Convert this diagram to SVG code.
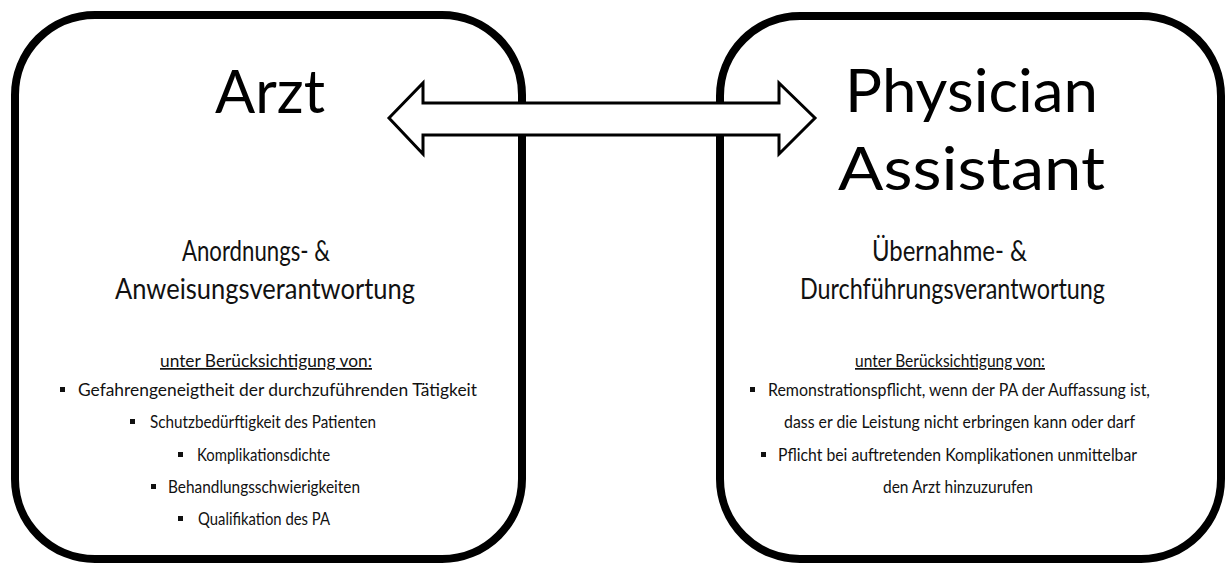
<svg xmlns="http://www.w3.org/2000/svg" width="1226" height="567" viewBox="0 0 1226 567">
<style>
.box{fill:#fff;stroke:#000;stroke-width:8}
.arrow{fill:#fff;stroke:#000;stroke-width:3;stroke-linejoin:miter}
text{font-family:Lato,"Open Sans","Liberation Sans",sans-serif;fill:#111}
.h1{font-size:60px;fill:#000}
.h2{font-size:28px}
.sub{font-size:17px;text-decoration:underline}
.li{font-size:17px}
.bul{fill:#111}
</style>
<rect width="1226" height="567" fill="#fff"/>
<g id="node-arzt">
<rect class="box" x="15" y="15" width="507" height="544" rx="80"/>
<text class="h1" x="215" y="113" textLength="110" lengthAdjust="spacingAndGlyphs">Arzt</text>
<text class="h2" x="182" y="261" textLength="148" lengthAdjust="spacingAndGlyphs">Anordnungs- &amp;</text>
<text class="h2" x="115" y="299" textLength="300" lengthAdjust="spacingAndGlyphs">Anweisungsverantwortung</text>
<text class="sub" x="160" y="367" textLength="212" lengthAdjust="spacingAndGlyphs">unter  Berücksichtigung von:</text>
<rect class="bul" x="60" y="387" width="5" height="5"/>
<text class="li" x="78" y="396" textLength="399" lengthAdjust="spacingAndGlyphs">Gefahrengeneigtheit der durchzuführenden  Tätigkeit</text>
<rect class="bul" x="130" y="419" width="5" height="5"/>
<text class="li" x="150" y="428" textLength="226" lengthAdjust="spacingAndGlyphs">Schutzbedürftigkeit  des Patienten</text>
<rect class="bul" x="178" y="452" width="5" height="5"/>
<text class="li" x="197" y="461" textLength="133" lengthAdjust="spacingAndGlyphs">Komplikationsdichte</text>
<rect class="bul" x="151" y="484" width="5" height="5"/>
<text class="li" x="168" y="493" textLength="192" lengthAdjust="spacingAndGlyphs">Behandlungsschwierigkeiten</text>
<rect class="bul" x="178" y="516" width="5" height="5"/>
<text class="li" x="198" y="525" textLength="132" lengthAdjust="spacingAndGlyphs">Qualifikation des PA</text>
</g>
<g id="node-pa">
<rect class="box" x="720" y="16" width="501" height="543" rx="80"/>
<text class="h1" x="845" y="112" textLength="253" lengthAdjust="spacingAndGlyphs">Physician</text>
<text class="h1" x="838" y="190" textLength="267" lengthAdjust="spacingAndGlyphs">Assistant</text>
<text class="h2" x="872" y="261" textLength="155" lengthAdjust="spacingAndGlyphs">Übernahme- &amp;</text>
<text class="h2" x="800" y="299" textLength="305" lengthAdjust="spacingAndGlyphs">Durchführungsverantwortung</text>
<text class="sub" x="855" y="367" textLength="190" lengthAdjust="spacingAndGlyphs">unter  Berücksichtigung von:</text>
<rect class="bul" x="750" y="387" width="5" height="5"/>
<text class="li" x="768" y="396" textLength="382" lengthAdjust="spacingAndGlyphs">Remonstrationspflicht, wenn der PA der Auffassung ist,</text>
<text class="li" x="784" y="428" textLength="351" lengthAdjust="spacingAndGlyphs">dass er die Leistung nicht erbringen kann oder darf</text>
<rect class="bul" x="761" y="452" width="5" height="5"/>
<text class="li" x="778" y="461" textLength="359" lengthAdjust="spacingAndGlyphs">Pflicht bei auftretenden Komplikationen  unmittelbar</text>
<text class="li" x="883" y="493" textLength="150" lengthAdjust="spacingAndGlyphs">den Arzt hinzuzurufen</text>
</g>
<g id="connectors">
<polygon class="arrow" points="389,118 423,83 423,103 779,103 779,83 815,118 779,154 779,135 423,135 423,154"/>
</g>
</svg>
